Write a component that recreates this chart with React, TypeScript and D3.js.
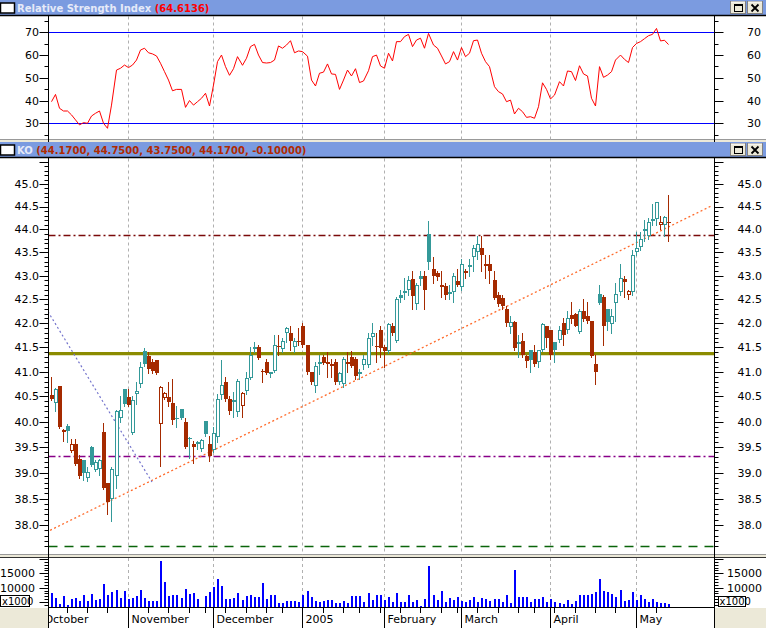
import React from "react";
import * as d3 from "d3";

// ---------- DATA ----------
const opens = [40.52,40.37,40.72,39.83,39.92,39.42,39.55,39.27,39.25,38.90,39.50,39.05,39.07,39.80,38.80,38.50,38.93,40.07,40.65,40.48,39.78,40.55,40.75,41.42,41.32,41.20,41.23,39.95,40.47,40.48,40.37,40.08,40.25,40.00,39.68,39.56,39.58,39.46,40.02,39.55,39.44,39.70,40.52,40.80,40.45,40.38,40.18,40.30,40.62,40.88,41.50,41.50,41.02,41.20,40.98,41.02,41.52,41.47,41.80,41.80,41.50,41.64,41.95,41.55,41.00,40.72,41.15,41.30,41.20,41.15,41.20,40.80,40.75,41.20,41.30,41.27,41.00,41.13,41.13,41.72,41.53,41.85,41.50,41.42,41.95,41.64,42.60,42.63,42.70,42.92,42.40,43.00,43.00,43.90,43.15,43.05,42.80,42.78,42.65,42.65,42.88,42.75,43.10,43.20,43.40,43.50,43.60,43.24,43.25,42.90,42.60,42.52,42.30,41.93,42.02,41.58,41.62,41.32,41.45,41.40,41.20,41.45,41.95,41.85,41.60,41.65,42.00,41.85,42.18,42.20,41.82,42.25,42.15,42.05,41.15,42.62,42.55,42.30,41.98,42.42,42.65,42.93,42.60,42.66,43.50,43.62,44.00,43.85,44.20,44.22,44.10,44.10,44.17];
const highs = [40.90,40.68,40.72,39.86,39.95,39.65,39.66,39.35,39.25,39.10,39.52,39.25,39.27,39.98,38.80,39.10,40.22,40.50,40.65,40.65,40.50,40.80,41.20,41.48,41.40,41.25,41.23,40.72,40.60,40.80,40.85,40.30,40.25,40.08,39.70,39.62,39.62,39.66,40.02,39.72,39.90,40.55,41.23,40.90,40.50,40.60,40.85,40.60,41.00,41.50,41.60,41.55,41.05,41.25,41.00,41.75,41.75,41.70,41.93,41.95,41.70,41.90,42.00,41.55,41.00,41.20,41.35,41.35,41.40,41.25,41.25,41.00,41.30,41.40,41.42,41.30,41.05,41.35,41.80,42.00,41.80,41.95,41.55,42.00,42.00,42.55,42.70,42.95,43.00,43.10,42.85,43.10,43.10,44.18,43.40,43.10,43.10,42.85,42.80,43.05,43.15,43.35,43.15,43.35,43.65,43.85,43.85,43.45,43.45,43.10,42.65,42.60,42.35,42.15,42.05,41.75,41.80,41.35,41.45,41.55,41.45,42.00,41.95,41.85,41.60,41.95,42.10,42.25,42.45,42.22,42.30,42.50,42.45,42.05,41.35,42.80,42.58,42.30,42.30,42.85,43.25,43.00,42.70,43.55,43.95,43.95,44.20,44.25,44.55,44.60,44.30,44.30,44.75];
const lows = [40.43,40.20,39.88,39.62,39.60,39.40,39.15,38.90,38.85,38.83,39.12,39.03,38.95,38.68,38.20,38.08,38.70,40.00,40.30,40.30,39.75,40.35,40.70,41.12,40.98,40.98,40.95,39.13,40.45,40.30,39.95,39.90,40.05,39.48,39.28,39.18,39.45,39.42,39.72,39.22,39.40,39.60,40.45,40.40,40.15,40.10,40.12,40.10,40.55,40.85,41.40,41.25,40.80,40.96,40.90,41.00,41.35,41.40,41.60,41.45,41.40,41.55,41.50,40.95,40.75,40.60,40.95,41.15,40.90,40.90,40.75,40.75,40.70,41.00,41.10,40.85,40.85,41.05,41.10,41.55,41.20,41.30,41.10,41.38,41.75,41.60,42.45,42.50,42.60,42.30,42.30,42.80,42.30,43.15,42.85,42.90,42.55,42.50,42.50,42.45,42.78,42.70,42.95,43.00,43.10,43.35,43.10,42.95,42.85,42.50,42.35,42.30,41.95,41.80,41.45,41.30,41.30,41.10,41.00,41.12,41.10,41.43,41.50,41.25,41.20,41.60,41.55,41.80,42.00,41.95,41.80,42.05,42.00,41.30,40.75,42.40,41.55,41.85,41.80,42.05,42.60,42.55,42.50,42.60,43.45,43.55,43.75,43.80,44.10,44.10,44.00,43.85,43.75];
const closes = [40.45,40.65,39.90,39.80,39.82,39.55,39.17,38.93,39.00,39.02,39.15,39.20,39.24,38.70,38.44,39.07,40.20,40.23,40.35,40.32,40.42,40.62,41.10,41.15,41.05,41.02,40.98,40.70,40.58,40.38,40.03,40.06,40.08,39.50,39.65,39.50,39.60,39.63,39.75,39.33,39.78,40.45,40.73,40.45,40.20,40.43,40.82,40.58,40.87,41.35,41.47,41.28,40.99,40.98,41.00,41.55,41.50,41.63,41.90,41.62,41.63,41.60,41.55,41.00,40.80,41.12,41.20,41.18,41.15,41.12,40.80,40.98,41.27,41.15,41.12,40.92,40.95,41.25,41.70,41.80,41.50,41.49,41.42,41.98,41.80,42.50,42.53,42.68,42.90,42.57,42.80,42.93,42.70,43.30,43.00,42.97,42.75,42.60,42.62,43.00,42.80,43.25,43.05,43.22,43.60,43.68,43.45,43.20,43.10,42.52,42.40,42.35,42.00,42.02,41.48,41.60,41.35,41.22,41.23,41.15,41.45,41.98,41.70,41.35,41.45,41.85,41.75,42.10,42.08,41.95,42.25,42.08,42.05,41.32,41.00,42.42,41.95,42.02,42.15,42.62,42.95,42.86,42.67,43.45,43.60,43.78,43.97,44.15,44.22,44.60,44.17,44.27,44.17];
const firstPrevClose = 40.6;

const volumes = [8276,6541,4343,7119,3996,6079,6310,5385,7467,5385,7813,5847,6079,11284,7467,8392,9202,6541,8855,6079,6310,7119,9202,6310,5385,5385,5385,19265,11978,7119,7467,7467,6541,9549,7929,8045,6079,3418,7119,8623,10358,13019,10705,6079,6079,6541,8276,5732,7236,7467,6888,6888,11746,6079,7467,7467,4806,4806,5385,5385,5385,4922,7467,8970,6772,5500,5153,5500,5732,5732,4806,4575,5385,4806,7119,7119,7119,5153,8276,5732,7467,7467,5732,6888,5153,8276,4922,5153,7467,4922,5732,3650,6079,17530,7467,5732,8855,5153,6310,5732,6657,5385,5153,5732,6772,5153,6310,6079,5385,5963,6079,5153,7467,4575,16142,6888,6888,6888,5153,6079,5963,6888,4922,6079,4922,4575,4228,5732,4228,5385,7467,7467,7467,7698,8392,13019,8855,8623,7698,6657,9202,5500,5732,8623,5732,7467,6079,5153,6079,5153,4806,4806,4343];

const rsiValues = [39.5,42.7,36.6,35.4,35.4,33.7,31.5,29.3,30.3,30.0,33.2,34.4,35.4,30.0,27.8,38.0,53.4,54.2,55.6,54.5,55.6,57.8,62.2,63.0,61.0,60.5,59.6,56.4,52.7,49.0,44.3,44.9,44.9,37.0,40.0,38.0,39.5,41.0,43.2,37.6,46.8,57.1,60.0,54.9,51.1,54.0,59.3,55.5,58.6,63.7,64.7,60.0,56.7,56.5,56.7,57.8,64.0,63.0,64.4,66.3,61.0,61.8,61.5,59.5,49.0,46.4,52.0,52.5,56.1,51.7,51.5,44.9,49.0,53.4,50.8,54.0,47.9,48.6,53.1,59.3,60.0,55.2,54.2,60.8,57.4,65.9,65.9,68.1,69.1,63.7,66.6,67.4,63.0,69.5,64.4,63.0,59.6,56.1,57.1,61.5,57.8,63.3,59.3,60.8,66.3,66.6,60.8,57.1,54.9,46.1,43.9,42.9,39.5,40.2,34.1,36.6,35.1,32.6,32.9,32.2,37.3,47.8,44.9,40.7,42.4,48.3,46.4,53.0,52.7,48.8,55.3,51.7,50.8,41.0,37.6,54.9,50.2,51.2,52.7,57.8,60.0,58.1,56.7,63.3,65.1,65.9,67.2,68.5,69.1,71.7,66.2,66.5,64.6136];

const startDate = "2004-10-05";
const endDate = "2005-05-12";
const holidays = ["2004-11-25", "2004-12-24", "2005-01-17", "2005-02-21", "2005-03-25"];
const monthNames = ["January","February","March","April","May","June","July","August","September","October","November","December"];

const rsiLabelTicks = [30, 40, 50, 60, 70];
const rsiLevels = [30, 70];
const priceLabelTicks = [38.0, 38.5, 39.0, 39.5, 40.0, 40.5, 41.0, 41.5, 42.0, 42.5, 43.0, 43.5, 44.0, 44.5, 45.0];
const volumeLabelTicks = [10000, 15000];

const oliveLevel = 41.37;
const resistanceLevel = 43.87;
const supportLevel = 39.32;
const bottomLevel = 37.6;
const trendUp = [{ i: -0.1, p: 37.9 }, { i: 162.75, p: 44.52 }];
const trendDown = [{ i: -0.62, p: 42.24 }, { i: 24.97, p: 38.82 }];

// ---------- STYLE ----------
const TEAL = "#349999";
const RED = "#A52A00";
const BEIGE = "#ECE9D8";
const TITLE_BG = "#7B9BE0";
const TITLE_TXT = "#E6EAF8";
const FONT = "'DejaVu Sans', Verdana, sans-serif";

const AX_L = 48.5;
const AX_R = 714.5;

function TitleBar({ y, children }: { y: number; children: React.ReactNode }) {
  return (
    <g>
      <rect x={0} y={y} width={766} height={15} fill={TITLE_BG} />
      <line x1={0} x2={766} y1={y + 15.5} y2={y + 15.5} stroke="#000" strokeWidth={1.5} />
      <rect x={0.5} y={y + 3} width={14} height={10} fill="#fff" stroke="#000" strokeWidth={1.5} />
      {children}
      {/* window buttons */}
      <rect x={730.5} y={y + 1.5} width={15} height={12} fill={BEIGE} stroke="#808080" />
      <line x1={731} x2={745} y1={y + 2} y2={y + 2} stroke="#fff" />
      <rect x={734.5} y={y + 4.5} width={8} height={7} fill="none" stroke="#000" />
      <line x1={734.5} x2={742.5} y1={y + 5.5} y2={y + 5.5} stroke="#000" />
      <rect x={747.5} y={y + 1.5} width={15} height={12} fill={BEIGE} stroke="#808080" />
      <line x1={748} x2={762} y1={y + 2} y2={y + 2} stroke="#fff" />
      <path d={`M751.5,${y + 4.5} L758.5,${y + 11.5} M758.5,${y + 4.5} L751.5,${y + 11.5}`} stroke="#000" strokeWidth={1.8} />
    </g>
  );
}

export default function App() {
  const n = closes.length;
  const xScale = d3.scaleLinear().domain([0, n - 1]).range([50.5, 668.3]);
  const P = (i: number) => Math.round(xScale(i));
  const yR = d3.scaleLinear().domain([30, 70]).range([123.3, 32.3]);
  const yP = d3.scaleLog().domain([38, 45]).range([525, 184]);
  const yV = d3.scaleLinear().domain([10000, 15000]).range([587.7, 573.3]);

  // trading calendar
  const parse = d3.utcParse("%Y-%m-%d");
  const fmt = d3.utcFormat("%Y-%m-%d");
  const days = d3.utcDay
    .range(parse(startDate)!, d3.utcDay.offset(parse(endDate)!, 1))
    .filter((d) => d.getUTCDay() !== 0 && d.getUTCDay() !== 6 && !holidays.includes(fmt(d)));
  const monthStarts: { i: number; label: string }[] = [];
  const weekStarts: number[] = [];
  days.forEach((d, i) => {
    if (i === 0) return;
    const prev = days[i - 1];
    if (d.getUTCMonth() !== prev.getUTCMonth()) {
      monthStarts.push({ i, label: d.getUTCMonth() === 0 ? String(d.getUTCFullYear()) : monthNames[d.getUTCMonth()] });
    } else if (d.getUTCDay() < prev.getUTCDay()) {
      weekStarts.push(i);
    }
  });
  const firstMonthLabel = monthNames[days[0].getUTCMonth()];

  const rsiLine = d3
    .line<number>()
    .x((_, i) => P(i) + 0.5)
    .y((v) => yR(v));

  // ticks
  const rsiTicks = d3.range(25, 80, 5);
  const priceTicks = d3.range(376, 456).map((v) => v / 10);
  const volTicks = d3.range(4000, 21000, 1000);

  const last = n - 1;
  const change = closes[last] - closes[last - 1];
  const koText = `(${opens[last].toFixed(4)}, ${highs[last].toFixed(4)}, ${lows[last].toFixed(4)}, ${closes[last].toFixed(4)}, ${change.toFixed(5)})`;

  const gridXs = monthStarts.map((m) => P(m.i) + 0.5);

  const panels = [
    { top: 16.5, bottom: 139.5 },
    { top: 158.5, bottom: 555 },
    { top: 558, bottom: 607 },
  ];

  return (
    <svg width={766} height={628} style={{ position: "fixed", left: 0, top: 0, background: "#fff" }} fontFamily={FONT}>
      <defs>
        <clipPath id="rsiClip"><rect x={AX_L} y={17} width={AX_R - AX_L} height={122} /></clipPath>
        <clipPath id="priceClip"><rect x={AX_L} y={159} width={AX_R - AX_L} height={396} /></clipPath>
        <clipPath id="volClip"><rect x={AX_L} y={558} width={AX_R - AX_L} height={49} /></clipPath>
        <clipPath id="labelClip"><rect x={AX_L + 0.5} y={607} width={AX_R - AX_L - 1} height={21} /></clipPath>
      </defs>
      <rect x={0} y={0} width={766} height={628} fill="#fff" />

      {/* separators and beige regions */}
      <rect x={0} y={139.5} width={766} height={3} fill={BEIGE} />
      <line x1={0} x2={766} y1={139.5} y2={139.5} stroke="#999" />
      <rect x={0} y={554.5} width={766} height={3} fill={BEIGE} />
      <line x1={0} x2={766} y1={554.5} y2={554.5} stroke="#999" />
      <line x1={0} x2={766} y1={557.5} y2={557.5} stroke="#333" />
      <rect x={0} y={608} width={AX_L} height={20} fill={BEIGE} />
      <rect x={AX_R} y={608} width={766 - AX_R} height={20} fill={BEIGE} />

      {/* month grid lines */}
      {panels.map((pn, k) => (
        <g key={k}>
          {gridXs.map((gx, j) => (
            <line key={j} x1={gx} x2={gx} y1={pn.top} y2={pn.bottom} stroke="#B0B0B0" strokeDasharray="3,3" />
          ))}
        </g>
      ))}

      {/* ---------- RSI panel ---------- */}
      <g clipPath="url(#rsiClip)">
        {rsiLevels.map((v) => (
          <line key={v} x1={AX_L} x2={AX_R} y1={Math.round(yR(v)) + 0.5} y2={Math.round(yR(v)) + 0.5} stroke="#0000FF" />
        ))}
        <path d={rsiLine(rsiValues) || ""} fill="none" stroke="#FF0000" strokeWidth={1} />
      </g>
      {rsiTicks.map((v) => {
        const y = Math.round(yR(v)) + 0.5;
        const major = v % 10 === 0;
        return (
          <g key={v}>
            <line x1={major ? AX_L - 9 : AX_L - 4} x2={AX_L} y1={y} y2={y} stroke="#000" />
            <line x1={AX_R} x2={major ? AX_R + 9 : AX_R + 4} y1={y} y2={y} stroke="#000" />
          </g>
        );
      })}
      {rsiLabelTicks.map((v) => (
        <g key={v} fontSize={11} fill="#000">
          <text x={39} y={yR(v)} dy="0.36em" textAnchor="end">{v}</text>
          <text x={761} y={yR(v)} dy="0.36em" textAnchor="end">{v}</text>
        </g>
      ))}

      {/* ---------- Price panel ---------- */}
      <g clipPath="url(#priceClip)">
        <line x1={AX_L} x2={AX_R} y1={yP(oliveLevel)} y2={yP(oliveLevel)} stroke="#8B8B00" strokeWidth={3.3} />
        <line x1={AX_L} x2={AX_R} y1={Math.round(yP(resistanceLevel)) + 0.5} y2={Math.round(yP(resistanceLevel)) + 0.5} stroke="#7A0A0A" strokeWidth={1.3} strokeDasharray="7,3,2,3" />
        <line x1={AX_L} x2={AX_R} y1={Math.round(yP(supportLevel)) + 0.5} y2={Math.round(yP(supportLevel)) + 0.5} stroke="#880088" strokeWidth={1.3} strokeDasharray="7,3,2,3" />
        <line x1={AX_L} x2={AX_R} y1={Math.round(yP(bottomLevel)) + 0.5} y2={Math.round(yP(bottomLevel)) + 0.5} stroke="#0A640A" strokeWidth={1.3} strokeDasharray="9,7" />
        <line x1={xScale(trendUp[0].i)} y1={yP(trendUp[0].p)} x2={xScale(trendUp[1].i)} y2={yP(trendUp[1].p)} stroke="#FF6A2A" strokeWidth={1.3} strokeDasharray="2,2.5" />
        <line x1={xScale(trendDown[0].i)} y1={yP(trendDown[0].p)} x2={xScale(trendDown[1].i)} y2={yP(trendDown[1].p)} stroke="#7474CC" strokeWidth={1.2} strokeDasharray="2,2.5" />
        <g shapeRendering="crispEdges">
          {closes.map((c, i) => {
            const o = opens[i];
            const prev = i === 0 ? firstPrevClose : closes[i - 1];
            const color = c >= prev ? TEAL : RED;
            const p = P(i);
            const yTop = Math.round(yP(Math.max(o, c)));
            const yBot = Math.round(yP(Math.min(o, c)));
            const yH = Math.round(yP(highs[i]));
            const yL = Math.round(yP(lows[i]));
            let body: React.ReactNode;
            if (c > o) {
              body = <rect x={p - 0.5} y={yTop + 0.5} width={3} height={Math.max(1, yBot - yTop - 1)} fill="#fff" stroke={color} />;
            } else if (c < o) {
              body = <rect x={p - 1} y={yTop} width={4} height={Math.max(1, yBot - yTop)} fill={color} />;
            } else {
              body = <rect x={p - 1} y={yTop} width={4} height={1} fill={color} />;
            }
            return (
              <g key={i}>
                <rect x={p} y={yH} width={1} height={Math.max(1, yL - yH + 1)} fill={color} />
                {body}
              </g>
            );
          })}
        </g>
      </g>
      {priceTicks.map((v) => {
        const y = Math.round(yP(v)) + 0.5;
        const major = Math.abs(v * 2 - Math.round(v * 2)) < 1e-6;
        if (y < 159 || y > 555) return null;
        return (
          <g key={v}>
            <line x1={major ? AX_L - 9 : AX_L - 4} x2={AX_L} y1={y} y2={y} stroke="#000" />
            <line x1={AX_R} x2={major ? AX_R + 9 : AX_R + 4} y1={y} y2={y} stroke="#000" />
          </g>
        );
      })}
      {priceLabelTicks.map((v) => (
        <g key={v} fontSize={11} fill="#000">
          <text x={39} y={yP(v)} dy="0.36em" textAnchor="end">{v.toFixed(1)}</text>
          <text x={762} y={yP(v)} dy="0.36em" textAnchor="end">{v.toFixed(1)}</text>
        </g>
      ))}

      {/* ---------- Volume panel ---------- */}
      <g clipPath="url(#volClip)" shapeRendering="crispEdges">
        {volumes.map((v, i) => {
          const y = Math.round(yV(v));
          return <rect key={i} x={P(i)} y={y} width={2} height={Math.max(0, 607 - y)} fill="#0000FF" />;
        })}
      </g>
      {volTicks.map((v) => {
        const y = Math.round(yV(v)) + 0.5;
        if (y < 558 || y > 607) return null;
        const major = v % 5000 === 0;
        return (
          <g key={v}>
            <line x1={major ? AX_L - 9 : AX_L - 4} x2={AX_L} y1={y} y2={y} stroke="#000" />
            <line x1={AX_R} x2={major ? AX_R + 9 : AX_R + 4} y1={y} y2={y} stroke="#000" />
          </g>
        );
      })}
      {volumeLabelTicks.map((v) => (
        <g key={v} fontSize={11} fill="#000">
          <text x={35} y={yV(v)} dy="0.36em" textAnchor="end">{v}</text>
          <text x={762} y={yV(v)} dy="0.36em" textAnchor="end">{v}</text>
        </g>
      ))}
      <rect x={0.5} y={595.5} width={29} height={11} fill="#fff" stroke="#000" />
      <text x={2} y={604.5} fontSize={10} fill="#000">x1000</text>
      <rect x={718.5} y={596.5} width={27} height={10} fill="#fff" stroke="#000" />
      <text x={719.5} y={605} fontSize={10} fill="#000">x1000</text>

      {/* ---------- x axis ---------- */}
      <line x1={AX_L} x2={AX_R} y1={607.5} y2={607.5} stroke="#000" />
      {monthStarts.map((m) => (
        <line key={m.i} x1={P(m.i) + 0.5} x2={P(m.i) + 0.5} y1={607} y2={628} stroke="#000" />
      ))}
      {weekStarts.map((i) => (
        <line key={i} x1={P(i) + 0.5} x2={P(i) + 0.5} y1={607} y2={613} stroke="#000" />
      ))}
      <g clipPath="url(#labelClip)" fontSize={11} fill="#000">
        <text x={xScale(-1.5)} y={623}>{firstMonthLabel}</text>
        {monthStarts.map((m) => (
          <text key={m.i} x={P(m.i) + 3.5} y={623}>{m.label}</text>
        ))}
      </g>

      {/* axis lines */}
      <line x1={AX_L} x2={AX_L} y1={16} y2={628} stroke="#000" />
      <line x1={AX_R} x2={AX_R} y1={16} y2={628} stroke="#000" />

      {/* title bars */}
      <TitleBar y={0}>
        <text x={17} y={11.5} fontSize={10} fontWeight="bold" fill={TITLE_TXT}>
          Relative Strength Index <tspan fill="#FF0000">({rsiValues[last].toFixed(4)})</tspan>
        </text>
      </TitleBar>
      <TitleBar y={142}>
        <text x={17} y={153.5} fontSize={10} fontWeight="bold" fill={TITLE_TXT}>
          KO <tspan fill="#B02A00">{koText}</tspan>
        </text>
      </TitleBar>
    </svg>
  );
}
